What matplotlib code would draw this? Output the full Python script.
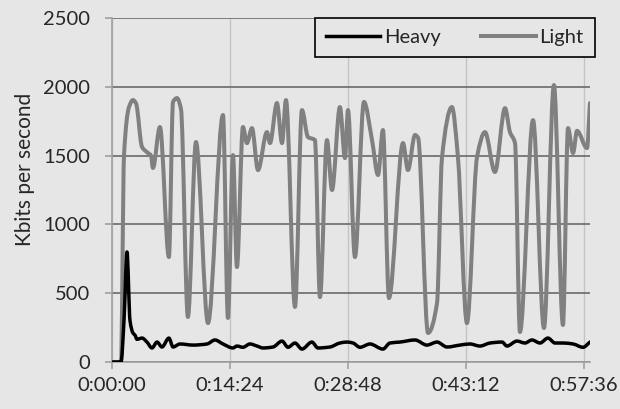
import matplotlib
matplotlib.use("Agg")
import matplotlib.pyplot as plt
from matplotlib.path import Path
from matplotlib.patches import PathPatch
from matplotlib.lines import Line2D
from matplotlib.ticker import FuncFormatter, MultipleLocator

plt.rcParams['font.family'] = ['Lato', 'DejaVu Sans']

# Light traffic (seconds, kbit/s)
light_t = [7, 66, 88, 124, 154, 176, 220, 264, 286, 300, 351, 417, 447, 476, 505, 556,
           615, 703, 813, 849, 886, 915, 959, 988, 1025, 1069, 1135, 1157, 1208, 1245,
           1274, 1340, 1391, 1435, 1486, 1523, 1574, 1611, 1669, 1706, 1728, 1779, 1845,
           1904, 1948, 1984, 2028, 2131, 2167, 2219, 2241, 2314, 2380, 2416, 2489, 2533,
           2599, 2673, 2731, 2804, 2878, 2914, 2951, 2987, 3083, 3163, 3236, 3302, 3339,
           3376, 3405, 3478, 3500]
light_v = [0, 0, 1500, 1850, 1904, 1880, 1563, 1519, 1500, 1410, 1708, 763, 1890, 1918, 1840, 327,
           1599, 283, 1795, 320, 1504, 690, 1708, 1591, 1700, 1395, 1671, 1591, 1882, 1591,
           1904, 400, 1831, 1635, 1613, 472, 1613, 1250, 1853, 1482, 1831, 763, 1890,
           1613, 1359, 1686, 465, 1591, 1395, 1650, 1630, 211, 429, 1482, 1853, 1490,
           283, 1490, 1671, 1381, 1845, 1671, 1591, 218, 1758, 247, 2013, 269, 1700,
           1519, 1680, 1555, 1882]

# Heavy traffic
heavy_t = [7, 66, 88, 110, 132, 154, 168, 183, 220, 256, 293, 330, 366, 417, 447, 498,
           593, 696, 754, 813, 886, 915, 959, 1010, 1062, 1106, 1179, 1245, 1289, 1340,
           1391, 1464, 1508, 1596, 1669, 1721, 1765, 1816, 1889, 1984, 2035, 2109, 2219,
           2306, 2380, 2453, 2548, 2621, 2694, 2768, 2856, 2892, 2965, 3024, 3075, 3134,
           3192, 3244, 3302, 3376, 3449, 3500]
heavy_v = [0, 0, 300, 800, 300, 210, 196, 165, 174, 145, 102, 145, 109, 174, 109, 131,
           123, 131, 160, 131, 102, 116, 107, 131, 116, 102, 109, 152, 107, 138,
           94, 145, 102, 109, 138, 145, 138, 107, 131, 94, 138, 145, 160,
           123, 145, 109, 123, 131, 116, 138, 145, 116, 152, 138, 160, 138,
           174, 138, 138, 131, 107, 145]

light_color = '#808080'
heavy_color = 'black'
bg = '#e6e6e6'


def smooth_path(xs, ys):
    # smoothed line through the points (monotone cubic, no overshoot)
    n = len(xs)
    h = [xs[i + 1] - xs[i] for i in range(n - 1)]
    d = [(ys[i + 1] - ys[i]) / h[i] for i in range(n - 1)]
    m = [0.0] * n
    m[0], m[-1] = d[0], d[-1]
    for i in range(1, n - 1):
        if d[i - 1] * d[i] <= 0:
            m[i] = 0.0
        else:
            w1 = 2 * h[i] + h[i - 1]
            w2 = h[i] + 2 * h[i - 1]
            m[i] = (w1 + w2) / (w1 / d[i - 1] + w2 / d[i])
    verts = [(xs[0], ys[0])]
    codes = [Path.MOVETO]
    for i in range(n - 1):
        verts += [(xs[i] + h[i] / 3, ys[i] + m[i] * h[i] / 3),
                  (xs[i + 1] - h[i] / 3, ys[i + 1] - m[i + 1] * h[i] / 3),
                  (xs[i + 1], ys[i + 1])]
        codes += [Path.CURVE4] * 3
    return Path(verts, codes)


fig = plt.figure(figsize=(6.2, 4.09), dpi=100, facecolor=bg)
ax = fig.add_axes([0.1806, 0.1149, 0.771, 0.841])
ax.set_facecolor(bg)

ax.add_patch(PathPatch(smooth_path(light_t, light_v), fill=False, edgecolor=light_color,
                       lw=2.9, joinstyle='round', capstyle='round', zorder=3))
ax.add_patch(PathPatch(smooth_path(heavy_t, heavy_v), fill=False, edgecolor=heavy_color,
                       lw=2.5, joinstyle='round', capstyle='round', zorder=4))

ax.set_xlim(0, 3500)
ax.set_ylim(0, 2500)
ax.xaxis.set_major_locator(MultipleLocator(864))
ax.yaxis.set_major_locator(MultipleLocator(500))


def fmt_time(s, pos):
    s = int(round(s))
    return "%d:%02d:%02d" % (s // 3600, (s % 3600) // 60, s % 60)


ax.xaxis.set_major_formatter(FuncFormatter(fmt_time))

ax.grid(axis='y', color='#6a6a6a', lw=1.2, zorder=1)
ax.grid(axis='x', color='#c4c4c4', lw=1.0, zorder=1)
ax.set_axisbelow(True)

for side in ['top', 'right']:
    ax.spines[side].set_visible(False)
for side in ['left', 'bottom']:
    ax.spines[side].set_color('#a0a0a0')
    ax.spines[side].set_linewidth(1.2)

ax.tick_params(axis='both', colors='#a0a0a0', length=5, width=1.2, labelsize=14.5, labelcolor='#262626')
ax.tick_params(axis='y', pad=11)
ax.tick_params(axis='x', pad=6)

ax.set_ylabel('Kbits per second', fontsize=15, color='#262626')
ax.yaxis.set_label_coords(-0.16, 0.56)

handles = [Line2D([], [], color=heavy_color, lw=2.5), Line2D([], [], color=light_color, lw=2.9)]
leg = ax.legend(handles, ['Heavy', 'Light'], loc='upper right', ncol=2,
                bbox_to_anchor=(1.01, 1.0), frameon=True, fancybox=False, fontsize=14.5,
                handlelength=2.7, handletextpad=0.2, columnspacing=2.0, borderpad=0.55,
                borderaxespad=0)
leg.get_frame().set_edgecolor('black')
leg.get_frame().set_linewidth(1.2)
leg.get_frame().set_facecolor(bg)
leg.get_frame().set_alpha(1)
for t in leg.get_texts():
    t.set_color('#262626')

fig.savefig('out.png', dpi=100, facecolor=bg)
